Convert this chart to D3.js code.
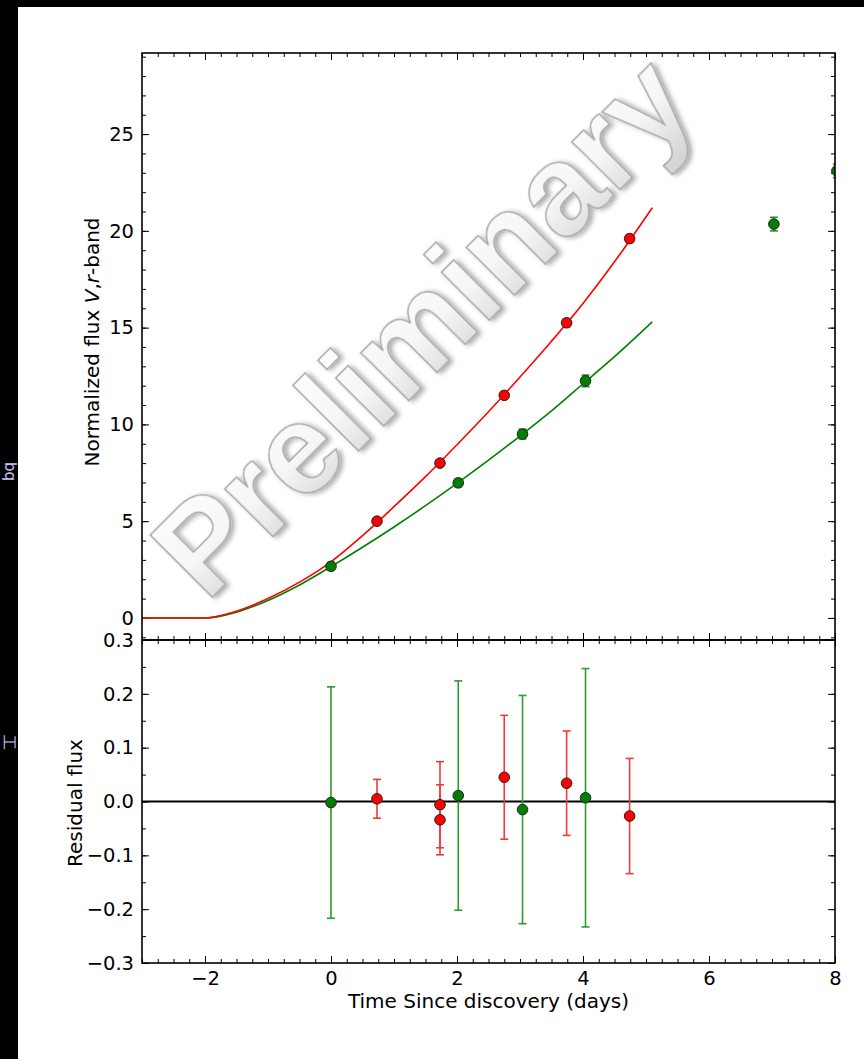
<!DOCTYPE html>
<html><head><meta charset="utf-8">
<script src="https://cdn.jsdelivr.net/npm/d3@7"></script>
<style>body{margin:0;background:#000;overflow:hidden} svg{display:block}</style>
</head><body>
<svg id="c" width="864" height="1059"></svg>
<script>
// ---- data ----
const redT = [0.73, 1.73, 2.75, 3.74, 4.74];
const redFlux = [5.0, 8.0, 11.5, 15.25, 19.6];
const redFluxErr = [0.15, 0.15, 0.15, 0.2, 0.2];
const greenT = [0, 2.02, 3.04, 4.04, 7.03, 8.03];
const greenFlux = [2.67, 6.98, 9.5, 12.25, 20.35, 23.1];
const greenFluxErr = [0.2, 0.2, 0.25, 0.3, 0.35, 0.35];

const modelT = [-3, -2, -1.5, -1, -0.5, 0, 0.5, 1, 1.5, 2, 2.5, 3, 3.5, 4, 4.5, 5.1];
const redModel = [0, 0, 0.35, 1.0, 1.85, 2.9, 4.25, 5.75, 7.3, 8.95, 10.65, 12.45, 14.3, 16.25, 18.4, 21.2];
const greenModel = [0, 0, 0.3, 0.9, 1.7, 2.65, 3.65, 4.7, 5.8, 6.95, 8.15, 9.4, 10.7, 12.1, 13.5, 15.3];

const redResT = [0.73, 1.73, 1.73, 2.75, 3.74, 4.74];
const redRes = [0.005, -0.006, -0.034, 0.045, 0.034, -0.027];
const redResErr = [0.036, 0.080, 0.065, 0.115, 0.097, 0.107];
const greenResT = [0, 2.02, 3.04, 4.04];
const greenRes = [-0.002, 0.011, -0.015, 0.007];
const greenResErr = [0.215, 0.213, 0.212, 0.240];

const xMajor = [-2, 0, 2, 4, 6, 8];
const topYMajor = [0, 5, 10, 15, 20, 25];
const botYMajor = [-0.3, -0.2, -0.1, 0.0, 0.1, 0.2, 0.3];

const xLabel = "Time Since discovery (days)";
const botYLabel = "Residual flux";
const watermark = "Preliminary";

// ---- layout ----
const svg = d3.select("#c");
const L = 142, R = 835, T = 53, MID = 640, B = 963;
const FONT = "DejaVu Sans, sans-serif";
const RED = "#ff0000", GREEN = "#008000";

const defs = svg.append("defs");
defs.append("clipPath").attr("id", "clipTop").append("rect")
  .attr("x", L).attr("y", T).attr("width", R - L).attr("height", MID - T);
defs.append("clipPath").attr("id", "clipBot").append("rect")
  .attr("x", L).attr("y", MID).attr("width", R - L).attr("height", B - MID);
const grad = defs.append("linearGradient").attr("id", "wmGrad")
  .attr("x1", 0).attr("y1", 0).attr("x2", 0).attr("y2", 1);
grad.append("stop").attr("offset", "0%").attr("stop-color", "#ffffff");
grad.append("stop").attr("offset", "55%").attr("stop-color", "#f6f6f6");
grad.append("stop").attr("offset", "100%").attr("stop-color", "#d2d2d2");
const flt = defs.append("filter").attr("id", "wmShadow")
  .attr("x", "-20%").attr("y", "-20%").attr("width", "140%").attr("height", "140%");
flt.append("feDropShadow").attr("dx", 2).attr("dy", 3).attr("stdDeviation", 2.5)
  .attr("flood-color", "#000").attr("flood-opacity", 0.35);

// background panel
svg.append("rect").attr("x", 0).attr("y", 0).attr("width", 864).attr("height", 1059).attr("fill", "#000");
svg.append("rect").attr("x", 18).attr("y", 7).attr("width", 846).attr("height", 1052).attr("fill", "#fff");
// slide fragments on the left strip
svg.append("text").attr("transform", "translate(5,462) rotate(90)")
  .attr("font-family", FONT).attr("font-size", 15).attr("fill", "#c9c3ff").text("bq");
svg.append("text").attr("transform", "translate(4,735) rotate(90)")
  .attr("font-family", FONT).attr("font-size", 15).attr("fill", "#c9c3ff").text("工");

// scales
const x = d3.scaleLinear().domain([-3, 8]).range([L, R]);
const yTop = d3.scaleLinear().domain([-1.14, 29.19]).range([MID, T]);
const yBot = d3.scaleLinear().domain([-0.3, 0.3]).range([B, MID]);

const xMinor = d3.range(-3, 8.001, 0.25);
const topYMinor = d3.range(-1, 29.5, 1);
const botYMinor = d3.range(-0.3, 0.3001, 0.05).map(v => +v.toFixed(2));

function drawAxis(axisFn, scale, pos, major, minor, labels, fmt) {
  const gMin = svg.append("g").attr("transform", pos)
    .call(axisFn(scale).tickValues(minor).tickSizeInner(-4).tickSizeOuter(0).tickFormat(""));
  const gMaj = svg.append("g").attr("transform", pos)
    .call(axisFn(scale).tickValues(major).tickSizeInner(-7).tickSizeOuter(0).tickPadding(8)
      .tickFormat(labels ? fmt : ""));
  [gMin, gMaj].forEach(g => {
    g.select(".domain").remove();
    g.selectAll(".tick line").attr("stroke", "#000").attr("stroke-width", 1);
    g.selectAll("text").attr("font-family", FONT).attr("font-size", 19.5).attr("fill", "#000");
  });
}

// top panel axes
drawAxis(d3.axisLeft, yTop, `translate(${L},0)`, topYMajor, topYMinor, true, d3.format("d"));
drawAxis(d3.axisRight, yTop, `translate(${R},0)`, topYMajor, topYMinor, false);
drawAxis(d3.axisTop, x, `translate(0,${T})`, xMajor, xMinor, false);
drawAxis(d3.axisBottom, x, `translate(0,${MID})`, xMajor, xMinor, false);
// bottom panel axes
drawAxis(d3.axisLeft, yBot, `translate(${L},0)`, botYMajor, botYMinor, true, d3.format(".1f"));
drawAxis(d3.axisRight, yBot, `translate(${R},0)`, botYMajor, botYMinor, false);
drawAxis(d3.axisTop, x, `translate(0,${MID})`, xMajor, xMinor, false);
drawAxis(d3.axisBottom, x, `translate(0,${B})`, xMajor, xMinor, true, d3.format("d"));

// ---- top panel data ----
const gTop = svg.append("g").attr("clip-path", "url(#clipTop)");
const line = d3.line().x(d => x(d[0])).y(d => yTop(d[1])).curve(d3.curveMonotoneX);
gTop.append("path").datum(d3.zip(modelT, greenModel)).attr("d", line)
  .attr("fill", "none").attr("stroke", GREEN).attr("stroke-width", 1.6);
gTop.append("path").datum(d3.zip(modelT, redModel)).attr("d", line)
  .attr("fill", "none").attr("stroke", RED).attr("stroke-width", 1.6);

function points(g, xs, ys, errs, ys_scale, color, errColor) {
  const data = xs.map((t, i) => ({t, v: ys[i], e: errs[i]}));
  const eg = g.append("g");
  data.forEach(d => {
    const cx = x(d.t), y1 = ys_scale(d.v + d.e), y2 = ys_scale(d.v - d.e);
    eg.append("line").attr("x1", cx).attr("x2", cx).attr("y1", y1).attr("y2", y2)
      .attr("stroke", errColor).attr("stroke-width", 1.6);
    [y1, y2].forEach(yy => eg.append("line").attr("x1", cx - 4).attr("x2", cx + 4)
      .attr("y1", yy).attr("y2", yy).attr("stroke", errColor).attr("stroke-width", 1.6));
  });
  g.append("g").selectAll("circle").data(data).join("circle")
    .attr("cx", d => x(d.t)).attr("cy", d => ys_scale(d.v)).attr("r", 5.3)
    .attr("fill", color).attr("stroke", "#222").attr("stroke-width", 1);
}
points(gTop, redT, redFlux, redFluxErr, yTop, RED, "#e03030");
points(gTop, greenT, greenFlux, greenFluxErr, yTop, GREEN, "#2a8a2a");

// ---- bottom panel ----
const gBot = svg.append("g").attr("clip-path", "url(#clipBot)");
gBot.append("line").attr("x1", L).attr("x2", R).attr("y1", yBot(0)).attr("y2", yBot(0))
  .attr("stroke", "#000").attr("stroke-width", 1.8);
points(gBot, greenResT, greenRes, greenResErr, yBot, GREEN, "#2f9a2f");
points(gBot, redResT, redRes, redResErr, yBot, RED, "#f23a3a");

// spines
[[T, MID], [MID, B]].forEach(([a, b]) => {
  svg.append("rect").attr("x", L).attr("y", a).attr("width", R - L).attr("height", b - a)
    .attr("fill", "none").attr("stroke", "#000").attr("stroke-width", 1.6);
});

// labels
svg.append("text").attr("x", (L + R) / 2).attr("y", 1008).attr("text-anchor", "middle")
  .attr("font-family", FONT).attr("font-size", 20).text(xLabel);
const tl = svg.append("text").attr("transform", "translate(99,342) rotate(-90)")
  .attr("text-anchor", "middle").attr("font-family", FONT).attr("font-size", 20);
tl.append("tspan").text("Normalized flux ");
tl.append("tspan").attr("font-style", "italic").text("V");
tl.append("tspan").text(",");
tl.append("tspan").attr("font-style", "italic").text("r");
tl.append("tspan").text("-band");
svg.append("text").attr("transform", "translate(82,803) rotate(-90)")
  .attr("text-anchor", "middle").attr("font-family", FONT).attr("font-size", 20).text(botYLabel);

// watermark
svg.append("text").attr("transform", "translate(421,325) rotate(-45)")
  .attr("text-anchor", "middle").attr("dy", "0.35em")
  .attr("font-family", "Liberation Sans, Arial, sans-serif").attr("font-size", 128)
  .attr("font-weight", "bold")
  .attr("fill", "url(#wmGrad)").attr("stroke", "#a8a8a8").attr("stroke-width", 1.5)
  .attr("filter", "url(#wmShadow)").text(watermark);
</script>
</body></html>
